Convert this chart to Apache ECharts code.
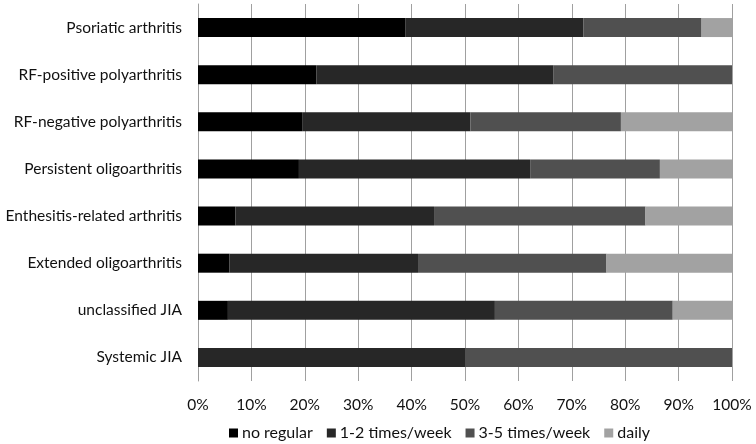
<!DOCTYPE html>
<html><head><meta charset="utf-8">
<script src="https://cdn.jsdelivr.net/npm/echarts@6/dist/echarts.min.js"></script>
<style>html,body{margin:0;padding:0;background:#fff}#c{width:756px;height:444px}</style>
</head><body><div id="c"></div>
<script>
const categories = ['Psoriatic arthritis','RF-positive polyarthritis','RF-negative polyarthritis','Persistent oligoarthritis','Enthesitis-related arthritis','Extended oligoarthritis','unclassified JIA','Systemic JIA'];
const noRegular = [38.8, 22.2, 19.5, 18.9, 7.0, 5.9, 5.6, 0];
const oneTwo    = [33.4, 44.4, 31.5, 43.3, 37.2, 35.3, 50.0, 50.0];
const threeFive = [22.1, 33.4, 28.2, 24.3, 39.6, 35.3, 33.3, 50.0];
const daily     = [5.7, 0, 20.8, 13.5, 16.2, 23.5, 11.1, 0];
const xTicks = [0,10,20,30,40,50,60,70,80,90,100];
const seriesNames = ['no regular','1-2 times/week','3-5 times/week','daily'];
const colors = ['#000000','#272727','#505050','#a2a2a2'];
const FONT = 'Lato';
const chart = echarts.init(document.getElementById('c'));
const dataSets = [noRegular, oneTwo, threeFive, daily];
chart.setOption({
  animation:false,
  textStyle:{fontFamily:FONT},
  grid:{left:198,right:24,top:4,bottom:63,containLabel:false},
  legend:{top:420,left:224,itemWidth:9,itemHeight:9,itemGap:14,icon:'rect',
    textStyle:{fontFamily:FONT,fontSize:16,color:'#111',padding:[0,0,0,-1]},data:seriesNames},
  xAxis:{type:'value',min:xTicks[0],max:xTicks[xTicks.length-1],interval:10,
    axisLine:{show:false},axisTick:{show:false},
    axisLabel:{formatter:'{value}%',fontFamily:FONT,fontSize:15.5,color:'#111',margin:16},
    splitLine:{show:true,lineStyle:{color:'#a0a0a0',width:1}}},
  yAxis:{type:'category',data:categories,inverse:true,
    axisLine:{show:true,lineStyle:{color:'#a0a0a0'}},axisTick:{show:false},
    axisLabel:{fontFamily:FONT,fontSize:15.5,color:'#111',margin:16}},
  series:dataSets.map((d,i)=>({name:seriesNames[i],type:'bar',stack:'all',data:d,
    barWidth:19,itemStyle:{color:colors[i]}}))
});
</script></body></html>
